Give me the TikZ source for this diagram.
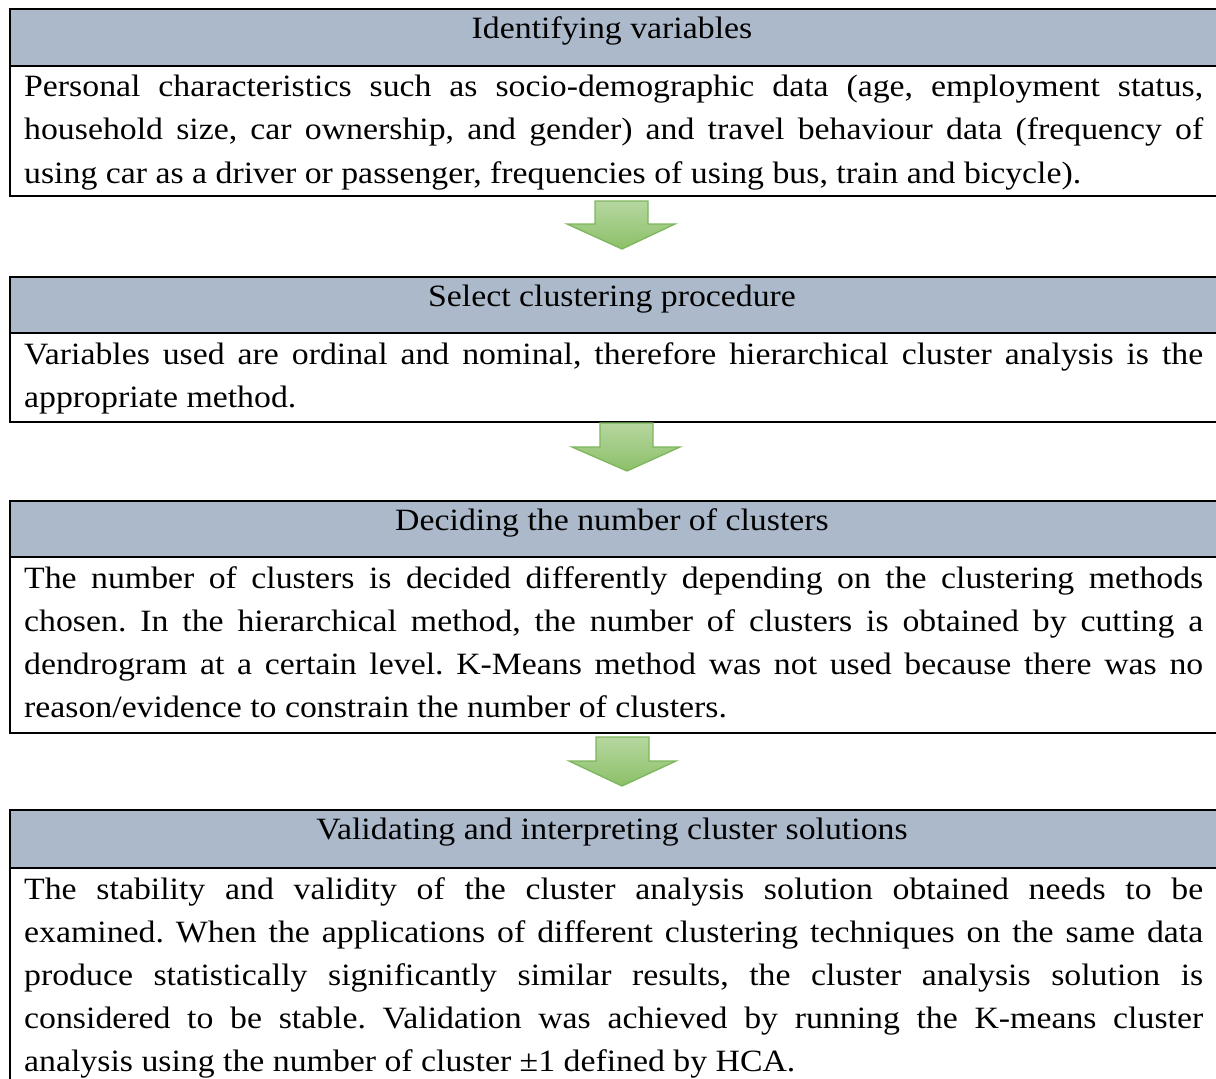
\documentclass[tikz,border=0pt]{standalone}
\usepackage{fontspec}
\setmainfont[FakeStretch=1.09]{Liberation Serif}
\definecolor{headblue}{HTML}{ACB9CA}
\definecolor{arrowtop}{HTML}{B6D7A0}
\definecolor{arrowbot}{HTML}{8CC068}
\definecolor{arrowline}{HTML}{7DB65C}
\tikzset{
  boxbase/.style={draw=black, line width=2pt, anchor=north west, inner sep=0pt,
    minimum width=1240pt},
  headbox/.style={boxbase, fill=headblue},
  bodybox/.style={boxbase, fill=white},
  txt/.style={inner sep=0pt, font=\fontsize{31pt}{43.5pt}\selectfont\frenchspacing},
  headtxt/.style={txt, anchor=base},
  linetxt/.style={txt, anchor=base west},
  blockarrow/.style={top color=arrowtop, bottom color=arrowbot, draw=arrowline,
    line width=1.3pt, line join=miter}
}
\newcommand{\fullline}[1]{\makebox[1179pt][s]{#1}}
\begin{document}
\begin{tikzpicture}[x=1pt, y=-1pt]
\clip (0,0) rectangle (1216,1079);
\fill[white] (0,0) rectangle (1216,1079);

% Step 1: identifying variables
\node[bodybox, minimum height=130pt] (b1) at (9,65) {};
\node[headbox, minimum height=57pt] (h1) at (9,8) {};
\node[headtxt] (t1) at (612,38) {Identifying variables};
\node[linetxt] (l1a) at (24,96) {\fullline{Personal characteristics such as socio-demographic data (age, employment status,}};
\node[linetxt] (l1b) at (24,139.5) {\fullline{household size, car ownership, and gender) and travel behaviour data (frequency of}};
\node[linetxt] (l1c) at (24,183) {using car as a driver or passenger, frequencies of using bus, train and bicycle).};

% Step 2: clustering procedure
\node[bodybox, minimum height=89pt] (b2) at (9,332) {};
\node[headbox, minimum height=56pt] (h2) at (9,276) {};
\node[headtxt] (t2) at (612,306) {Select clustering procedure};
\node[linetxt] (l2a) at (24,364) {\fullline{Variables used are ordinal and nominal, therefore hierarchical cluster analysis is the}};
\node[linetxt] (l2b) at (24,407) {appropriate method.};

% Step 3: number of clusters
\node[bodybox, minimum height=176pt] (b3) at (9,556) {};
\node[headbox, minimum height=56pt] (h3) at (9,500) {};
\node[headtxt] (t3) at (612,530) {Deciding the number of clusters};
\node[linetxt] (l3a) at (24,588) {\fullline{The number of clusters is decided differently depending on the clustering methods}};
\node[linetxt] (l3b) at (24,631) {\fullline{chosen. In the hierarchical method, the number of clusters is obtained by cutting a}};
\node[linetxt] (l3c) at (24,674) {\fullline{dendrogram at a certain level. K-Means method was not used because there was no}};
\node[linetxt] (l3d) at (24,717) {reason/evidence to constrain the number of clusters.};

% Step 4: validation
\node[bodybox, minimum height=260pt] (b4) at (9,867) {};
\node[headbox, minimum height=58pt] (h4) at (9,809) {};
\node[headtxt] (t4) at (612,839) {Validating and interpreting cluster solutions};
\node[linetxt] (l4a) at (24,899) {\fullline{The stability and validity of the cluster analysis solution obtained needs to be}};
\node[linetxt] (l4b) at (24,942) {\fullline{examined. When the applications of different clustering techniques on the same data}};
\node[linetxt] (l4c) at (24,985) {\fullline{produce statistically significantly similar results, the cluster analysis solution is}};
\node[linetxt] (l4d) at (24,1028) {\fullline{considered to be stable. Validation was achieved by running the K-means cluster}};
\node[linetxt] (l4e) at (24,1071) {analysis using the number of cluster ±1 defined by HCA.};

% Block arrows between the steps
\shadedraw[blockarrow] (595,201) -- (648,201) -- (648,224) -- (675,224) -- (622,249)
  -- (567,224) -- (595,224) -- cycle;
\shadedraw[blockarrow] (600,423) -- (653,423) -- (653,447) -- (680,447) -- (627,471)
  -- (572,447) -- (600,447) -- cycle;
\shadedraw[blockarrow] (596,737) -- (649,737) -- (649,761) -- (676,761) -- (622,786)
  -- (569,761) -- (596,761) -- cycle;
\end{tikzpicture}
\end{document}
